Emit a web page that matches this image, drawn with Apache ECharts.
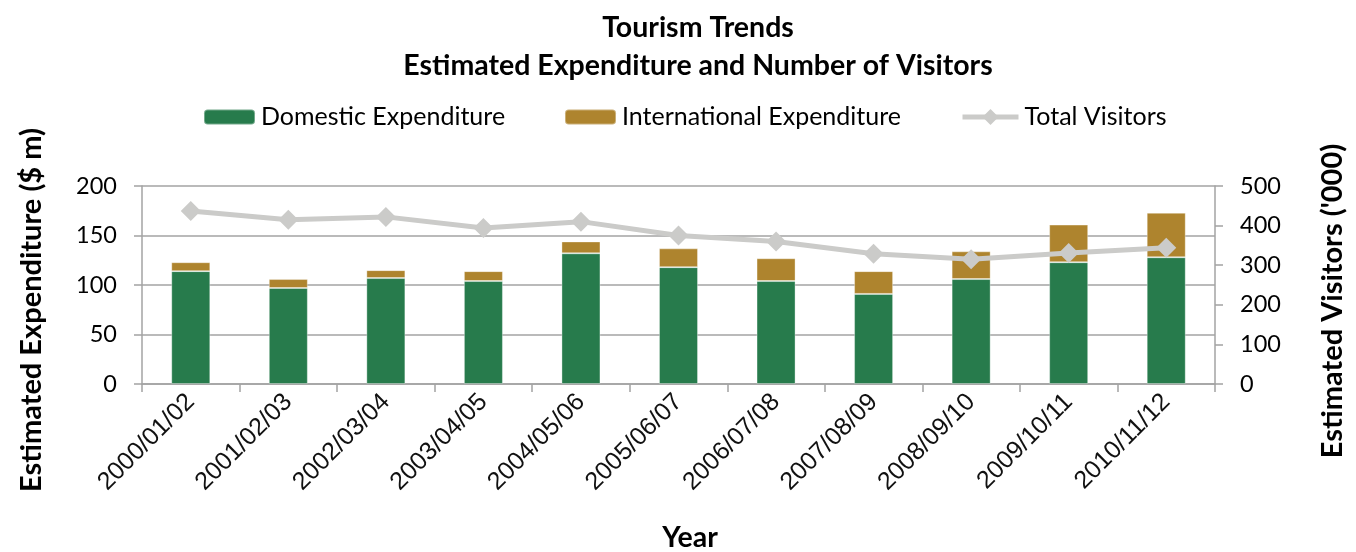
<!DOCTYPE html>
<html>
<head>
<meta charset="utf-8">
<style>
  html, body { margin: 0; padding: 0; background: #ffffff; }
  #chart { width: 1356px; height: 552px; }
</style>
<script src="https://cdn.jsdelivr.net/npm/echarts@6/dist/echarts.min.js"></script>
</head>
<body>
<div id="chart"></div>
<script>
// Financial-year periods
const years = ['2000/01/02', '2001/02/03', '2002/03/04', '2003/04/05', '2004/05/06', '2005/06/07',
               '2006/07/08', '2007/08/09', '2008/09/10', '2009/10/11', '2010/11/12'];
// Expenditure, $ million
const domestic = [114, 97, 107, 104, 132, 118, 104, 91, 106, 123, 128];
const international = [9, 9, 8, 10, 12, 19, 23, 23, 28, 38, 45];
// Visitors, thousands
const visitors = [437, 415, 422, 394, 410, 375, 360, 329, 315, 331, 344];
// Axis ticks
const expTicks = [0, 200, 50];
const visTicks = [0, 500, 100];

const uiFont = 'Lato';
const gridColor = '#a3a3a3';

const chart = echarts.init(document.getElementById('chart'), null, { renderer: 'canvas' });

function legendAt(name, left, iconW, iconH) {
  return {
    data: [name], left: left, top: 104, padding: 0,
    itemWidth: iconW, itemHeight: iconH, itemGap: 0,
    lineStyle: { width: 5 },
    textStyle: { fontFamily: uiFont, fontSize: 25, color: '#000', lineHeight: 26, padding: [0, 0, 0, 1] },
    selectedMode: false
  };
}

chart.setOption({
  animation: false,
  backgroundColor: '#ffffff',
  title: {
    text: 'Tourism Trends\nEstimated Expenditure and Number of Visitors',
    left: 693, textAlign: 'center', top: 4,
    textStyle: { fontFamily: uiFont, fontWeight: 'bold', fontSize: 28.5, lineHeight: 38, color: '#000' }
  },
  legend: [
    legendAt('Domestic Expenditure', 203, 51, 15),
    legendAt('International Expenditure', 564, 51, 15),
    legendAt('Total Visitors', 960, 56, 20)
  ],
  grid: { left: 142, right: 141, top: 186, bottom: 168, containLabel: false },
  xAxis: {
    type: 'category', data: years, boundaryGap: true,
    axisLine: { lineStyle: { color: gridColor, width: 1.5 } },
    axisTick: { show: true, length: 8, lineStyle: { color: gridColor, width: 1.5 } },
    axisLabel: { rotate: 45, margin: 14, fontFamily: 'Liberation Sans', fontSize: 25, color: '#111', interval: 0 }
  },
  yAxis: [
    {
      type: 'value', min: expTicks[0], max: expTicks[1], interval: expTicks[2],
      axisLine: { show: true, lineStyle: { color: gridColor, width: 1.5 } },
      axisTick: { show: true, length: 8, lineStyle: { color: gridColor, width: 1.5 } },
      splitLine: { show: true, lineStyle: { color: gridColor, width: 1.5 } },
      axisLabel: { margin: 25, fontFamily: uiFont, fontSize: 23.5, color: '#000' }
    },
    {
      type: 'value', min: visTicks[0], max: visTicks[1], interval: visTicks[2],
      axisLine: { show: true, lineStyle: { color: gridColor, width: 1.5 } },
      axisTick: { show: true, length: 8, lineStyle: { color: gridColor, width: 1.5 } },
      splitLine: { show: false },
      axisLabel: { margin: 25, fontFamily: uiFont, fontSize: 23.5, color: '#000' }
    }
  ],
  series: [
    {
      name: 'Domestic Expenditure', type: 'bar', stack: 'exp', data: domestic, barWidth: '40%',
      itemStyle: { color: '#277b4c', borderColor: 'rgba(255,255,255,0.35)', borderWidth: 1 }
    },
    {
      name: 'International Expenditure', type: 'bar', stack: 'exp', data: international, barWidth: '40%',
      itemStyle: { color: '#ae842e', borderColor: 'rgba(255,255,255,0.35)', borderWidth: 1 }
    },
    {
      name: 'Total Visitors', type: 'line', yAxisIndex: 1, data: visitors,
      symbol: 'diamond', symbolSize: 20, z: 5,
      lineStyle: { color: '#cbcbc9', width: 5 },
      itemStyle: { color: '#cbcbc9' }
    }
  ],
  graphic: [
    {
      type: 'text', x: 32, y: 310, rotation: Math.PI / 2,
      style: { text: 'Estimated Expenditure ($ m)', fontFamily: uiFont, fontWeight: 'bold', fontSize: 29,
               fill: '#000', textAlign: 'center', textVerticalAlign: 'middle' }
    },
    {
      type: 'text', x: 1333, y: 301, rotation: Math.PI / 2,
      style: { text: "Estimated Visitors ('000)", fontFamily: uiFont, fontWeight: 'bold', fontSize: 29,
               fill: '#000', textAlign: 'center', textVerticalAlign: 'middle' }
    },
    {
      type: 'text', x: 690, y: 538,
      style: { text: 'Year', fontFamily: uiFont, fontWeight: 'bold', fontSize: 28.5,
               fill: '#000', textAlign: 'center', textVerticalAlign: 'middle' }
    }
  ]
});
</script>
</body>
</html>
